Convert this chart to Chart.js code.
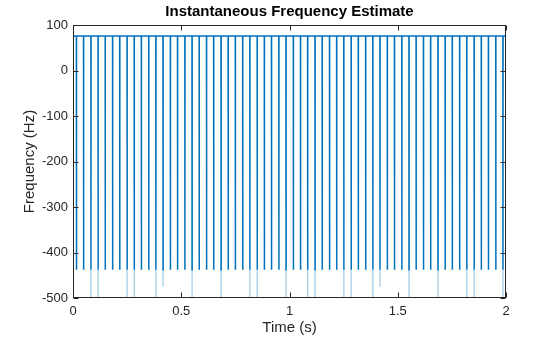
<!DOCTYPE html>
<html>
<head>
<meta charset="utf-8">
<script src="https://cdn.jsdelivr.net/npm/chart.js@4.4.0/dist/chart.umd.min.js"></script>
<style>
  html, body { margin: 0; padding: 0; background: #fff; }
</style>
</head>
<body>
<canvas id="freqChart" width="560" height="337"></canvas>
<script>
// flat estimate around 76 Hz, with a dip roughly every 33 ms
const baseFreq = 76;
const dipFloor = -438;

const spikeTimes = [
    0.016, 0.049, 0.083, 0.116, 0.149, 0.183, 0.216, 0.250, 0.283, 0.316,
    0.350, 0.383, 0.416, 0.450, 0.483, 0.517, 0.550, 0.583, 0.617, 0.650,
    0.684, 0.717, 0.750, 0.784, 0.817, 0.851, 0.884, 0.917, 0.951, 0.984,
    1.018, 1.051, 1.084, 1.118, 1.151, 1.185, 1.218, 1.251, 1.285, 1.318,
    1.352, 1.385, 1.418, 1.452, 1.485, 1.519, 1.552, 1.585, 1.619, 1.652,
    1.686, 1.719, 1.752, 1.786, 1.819, 1.853, 1.886, 1.919, 1.953, 1.986
];
const spikeDepths = [
    -438, -438, -540, -540, -438, -438, -438, -540, -540, -438,
    -438, -540, -475, -438, -438, -438, -540, -438, -438, -438,
    -540, -438, -438, -438, -540, -540, -438, -438, -438, -540,
    -438, -438, -540, -540, -438, -438, -438, -540, -540, -438,
    -438, -540, -475, -438, -438, -438, -540, -438, -438, -438,
    -540, -438, -438, -438, -540, -540, -438, -438, -438, -540
];
const xTicks = [0, 0.5, 1, 1.5, 2];
const yTicks = [-500, -400, -300, -200, -100, 0, 100];

const halfWidth = 0.0004;
const mainLine = [{x: 0, y: baseFreq}];
const deepLine = [];
spikeTimes.forEach((t, i) => {
    const d = spikeDepths[i];
    mainLine.push({x: t - halfWidth, y: baseFreq}, {x: t, y: Math.max(d, dipFloor)}, {x: t + halfWidth, y: baseFreq});
    if (d < dipFloor) {
        deepLine.push({x: t, y: dipFloor}, {x: t, y: d}, {x: t, y: null});
    }
});
mainLine.push({x: 2, y: baseFreq});

const axisColor = '#262626';
const fontFamily = '"Liberation Sans", Arial, Helvetica, sans-serif';

// box around the axes plus inward ticks, matlab style
const boxAxes = {
    id: 'boxAxes',
    afterDraw(chart) {
        const {ctx, chartArea: a, scales: {x, y}} = chart;
        const L = Math.round(a.left) + 0.5, R = Math.round(a.right) - 0.5;
        const T = Math.round(a.top) + 0.5, B = Math.round(a.bottom) - 0.5;
        const tl = 5;
        ctx.save();
        ctx.strokeStyle = axisColor;
        ctx.lineWidth = 1;
        ctx.beginPath();
        xTicks.forEach(v => {
            const px = Math.round(x.getPixelForValue(v)) + 0.5;
            ctx.moveTo(px, B); ctx.lineTo(px, B - tl);
            ctx.moveTo(px, T); ctx.lineTo(px, T + tl);
        });
        yTicks.forEach(v => {
            const py = Math.round(y.getPixelForValue(v)) + 0.5;
            ctx.moveTo(L, py); ctx.lineTo(L + tl, py);
            ctx.moveTo(R, py); ctx.lineTo(R - tl, py);
        });
        ctx.stroke();
        ctx.strokeRect(L, T, R - L, B - T);
        ctx.restore();
    }
};

const ctx = document.getElementById('freqChart').getContext('2d');
new Chart(ctx, {
    type: 'line',
    data: {
        datasets: [{
            label: 'Frequency',
            data: mainLine,
            borderColor: '#0072BD',
            borderWidth: 1.5,
            pointRadius: 0,
            tension: 0
        }, {
            label: 'Deep dips',
            data: deepLine,
            borderColor: 'rgba(0, 114, 189, 0.3)',
            borderWidth: 1.5,
            pointRadius: 0,
            spanGaps: false
        }]
    },
    options: {
        responsive: false,
        animation: false,
        devicePixelRatio: 1,
        layout: { padding: { left: 0, right: 54, top: 0, bottom: 0 } },
        scales: {
            x: {
                type: 'linear',
                min: 0,
                max: 2,
                afterBuildTicks: s => { s.ticks = xTicks.map(v => ({value: v})); },
                afterFit: s => { s.height = 39; },
                grid: { display: false, drawTicks: false },
                border: { display: false },
                ticks: {
                    padding: 6, color: axisColor, font: { size: 13, family: fontFamily },
                    maxRotation: 0, autoSkip: false,
                    callback: value => String(value)
                },
                title: { display: true, text: 'Time (s)', color: axisColor, font: { size: 15, family: fontFamily }, padding: { top: 0, bottom: 0 } }
            },
            y: {
                min: -500,
                max: 100,
                afterBuildTicks: s => { s.ticks = yTicks.map(v => ({value: v})); },
                afterFit: s => { s.width = 73; },
                grid: { display: false, drawTicks: false },
                border: { display: false },
                ticks: { padding: 5, color: axisColor, font: { size: 13, family: fontFamily }, callback: value => String(value) },
                title: { display: true, text: 'Frequency (Hz)', color: axisColor, font: { size: 15, family: fontFamily }, padding: { top: 21, bottom: 0 } }
            }
        },
        plugins: {
            legend: { display: false },
            tooltip: { enabled: false },
            title: {
                display: true,
                text: 'Instantaneous Frequency Estimate',
                fullSize: false,
                color: '#000',
                font: { size: 15, weight: 'bold', family: fontFamily },
                padding: { top: 3, bottom: 4 }
            }
        }
    },
    plugins: [boxAxes]
});
</script>
</body>
</html>
